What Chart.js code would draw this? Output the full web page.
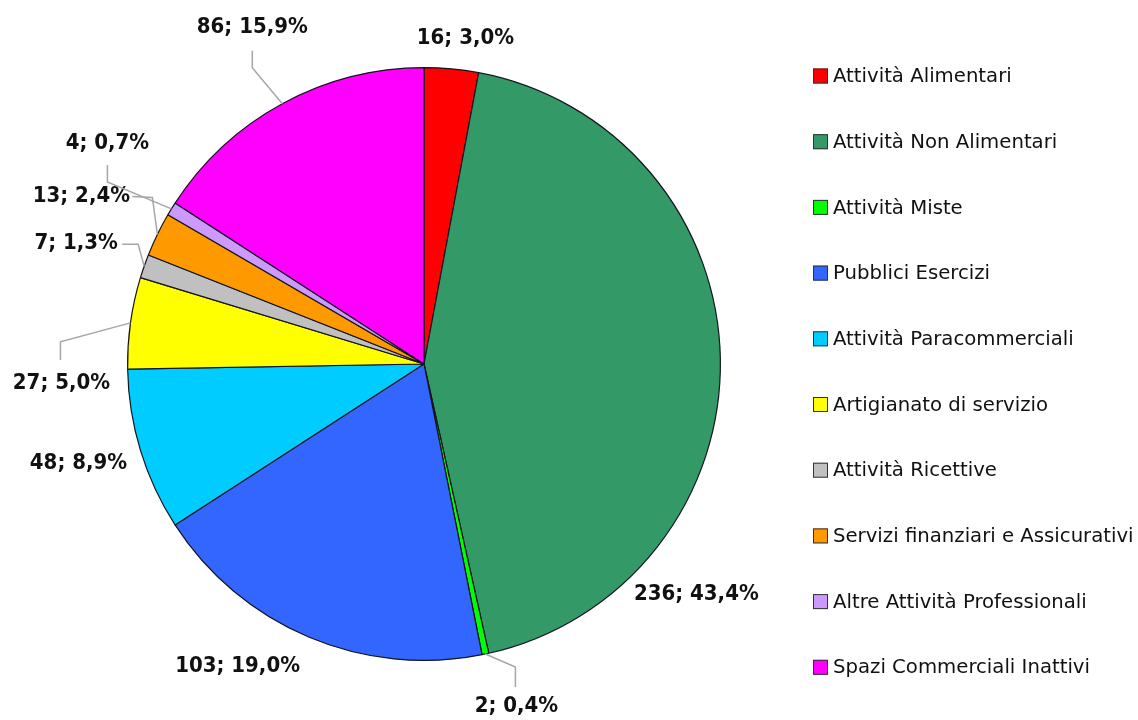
<!DOCTYPE html>
<html>
<head>
<meta charset="utf-8">
<script src="https://cdn.jsdelivr.net/npm/chart.js@4/dist/chart.umd.min.js"></script>
<style>
  html, body { margin: 0; padding: 0; background: #ffffff; }
  #contenitore { width: 1138px; height: 720px; }
</style>
</head>
<body>
<div id="contenitore"><canvas id="torta" width="1138" height="720"></canvas></div>
<script>
// categorie e valori (numero esercizi)
var categorie = [
  'Attività Alimentari',
  'Attività Non Alimentari',
  'Attività Miste',
  'Pubblici Esercizi',
  'Attività Paracommerciali',
  'Artigianato di servizio',
  'Attività Ricettive',
  'Servizi finanziari e Assicurativi',
  'Altre Attività Professionali',
  'Spazi Commerciali Inattivi'
];
var valori = [16, 236, 2, 103, 48, 27, 7, 13, 4, 86];
var percentuali = [3.0, 43.4, 0.4, 19.0, 8.9, 5.0, 1.3, 2.4, 0.7, 15.9];

var colori = ['#ff0000', '#339966', '#00ff00', '#3366ff', '#00ccff',
              '#ffff00', '#c0c0c0', '#ff9900', '#cc99ff', '#ff00ff'];

// posizione etichette: spostamento dal bordo della fetta (a meta' angolo)
var spostEtichette = [[14, -31], [-24, 235], [31, 52], [-71, 29], [-62, 13],
                      [-69, 60], [-68, -23], [-76, -38], [-64, -66], [-30, -76]];
// linee guida: gomito e fine, relativi al centro dell'etichetta
var lineeGuida = [null, null, [[-1, -39], [-1, -19]], null, null,
                  [[-1, -41], [-1, -23]], [[62, 1], [46, 1]], [[71, 1], [51, 0]],
                  [[0, 39], [0, 22]], [[0, 40], [0, 23]]];

function formatta(v, p) {
  return v + '; ' + p.toFixed(1).replace('.', ',') + '%';
}

var etichettePlugin = {
  id: 'etichette',
  afterDatasetsDraw: function (chart) {
    var ctx = chart.ctx;
    var archi = chart.getDatasetMeta(0).data;
    ctx.save();
    archi.forEach(function (arco, i) {
      var medio = (arco.startAngle + arco.endAngle) / 2;
      var bx = arco.x + Math.cos(medio) * arco.outerRadius;
      var by = arco.y + Math.sin(medio) * arco.outerRadius;
      var lx = bx + spostEtichette[i][0];
      var ly = by + spostEtichette[i][1];
      var guida = lineeGuida[i];
      if (guida) {
        ctx.strokeStyle = '#a6a6a6';
        ctx.lineWidth = 1.5;
        ctx.beginPath();
        ctx.moveTo(bx, by);
        ctx.lineTo(lx + guida[0][0], ly + guida[0][1]);
        ctx.lineTo(lx + guida[1][0], ly + guida[1][1]);
        ctx.stroke();
      }
      ctx.fillStyle = '#111111';
      ctx.font = 'bold 22px "DejaVu Sans Condensed", "DejaVu Sans", sans-serif';
      ctx.textAlign = 'center';
      ctx.textBaseline = 'middle';
      ctx.fillText(formatta(valori[i], percentuali[i]), lx, ly);
    });
    ctx.restore();
  }
};

var legendaPlugin = {
  id: 'legendaDestra',
  afterDraw: function (chart) {
    var ctx = chart.ctx;
    var x0 = 813, y0 = 76, passo = 65.7;
    ctx.save();
    ctx.font = '19.7px "DejaVu Sans", sans-serif';
    ctx.textAlign = 'left';
    ctx.textBaseline = 'middle';
    chart.data.labels.forEach(function (nome, i) {
      var y = y0 + i * passo;
      ctx.fillStyle = colori[i];
      ctx.fillRect(x0, y - 7.5, 15, 15);
      ctx.strokeStyle = '#333333';
      ctx.lineWidth = 1;
      ctx.strokeRect(x0 + 0.5, y - 7, 14, 14);
      ctx.fillStyle = '#111111';
      ctx.fillText(nome, x0 + 20, y + 1);
    });
    ctx.restore();
  }
};

new Chart(document.getElementById('torta').getContext('2d'), {
  type: 'pie',
  data: {
    labels: categorie,
    datasets: [{
      data: valori,
      backgroundColor: colori,
      borderColor: '#141420',
      borderWidth: 1.2
    }]
  },
  options: {
    responsive: false,
    animation: false,
    layout: { padding: { left: 127, right: 417, top: 67, bottom: 59 } },
    plugins: {
      legend: { display: false },
      tooltip: { enabled: false }
    }
  },
  plugins: [etichettePlugin, legendaPlugin]
});
</script>
</body>
</html>
